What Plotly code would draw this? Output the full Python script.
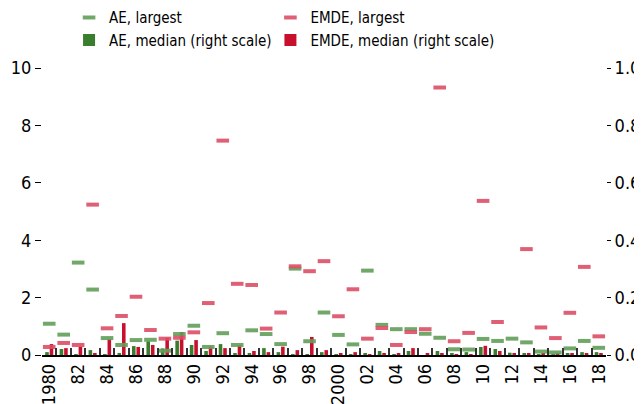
import plotly.graph_objects as go

years = ["1980", "1981", "1982", "1983", "1984", "1985", "1986", "1987", "1988", "1989",
         "1990", "1991", "1992", "1993", "1994", "1995", "1996", "1997", "1998", "1999",
         "2000", "2001", "2002", "2003", "2004", "2005", "2006", "2007", "2008", "2009",
         "2010", "2011", "2012", "2013", "2014", "2015", "2016", "2017", "2018"]

tick_labels = ["1980", "", "82", "", "84", "", "86", "", "88", "",
               "90", "", "92", "", "94", "", "96", "", "98", "",
               "2000", "", "02", "", "04", "", "06", "", "08", "",
               "10", "", "12", "", "14", "", "16", "", "18"]

ae_largest = [1.09, 0.71, 3.22, 2.28, 0.59, 0.35, 0.52, 0.53, 0.15, 0.73,
              1.02, 0.28, 0.76, 0.35, 0.86, 0.73, 0.38, 3.01, 0.48, 1.48,
              0.70, 0.37, 2.94, 1.05, 0.90, 0.90, 0.74, 0.60, 0.20, 0.19,
              0.56, 0.49, 0.57, 0.44, 0.12, 0.09, 0.23, 0.49, 0.25]

emde_largest = [0.28, 0.42, 0.35, 5.24, 0.93, 1.36, 2.03, 0.87, 0.57, 0.60,
                0.79, 1.81, 7.47, 2.48, 2.44, 0.92, 1.48, 3.09, 2.92, 3.27,
                1.35, 2.29, 0.57, 0.94, 0.35, 0.80, 0.90, 9.32, 0.48, 0.77,
                5.37, 1.15, None, 3.69, 0.96, 0.59, 1.47, 3.07, 0.65]

ae_median = [0.010, 0.021, 0.003, 0.017, 0.003, 0.007, 0.031, 0.048, 0.023, 0.050,
             0.035, 0.014, 0.038, 0.007, 0.007, 0.024, 0.010, 0.003, 0.003, 0.010,
             0.003, 0.003, 0.007, 0.014, 0.003, 0.014, 0.000, 0.014, 0.007, 0.010,
             0.028, 0.021, 0.008, 0.005, 0.002, 0.002, 0.007, 0.010, 0.010]

emde_median = [0.038, 0.024, 0.029, 0.007, 0.055, 0.111, 0.028, 0.035, 0.060, 0.080,
               0.052, 0.029, 0.024, 0.034, 0.014, 0.010, 0.029, 0.017, 0.063, 0.017,
               0.007, 0.010, 0.003, 0.007, 0.007, 0.024, 0.007, 0.007, 0.003, 0.003,
               0.032, 0.014, 0.005, 0.005, 0.004, 0.004, 0.004, 0.004, 0.004]

FONT = "DejaVu Sans Condensed, Liberation Sans Narrow, sans-serif"
AE_DARK = "#3a7d2c"
EMDE_DARK = "#c8102e"
AE_LIGHT = "rgba(98,158,90,0.9)"
EMDE_LIGHT = "rgba(220,78,102,0.9)"

fig = go.Figure()

fig.add_trace(go.Bar(x=years, y=ae_median, name="AE, median (right scale)",
                     marker=dict(color=AE_DARK, line=dict(width=0)),
                     yaxis="y", legend="legend", legendrank=2))
fig.add_trace(go.Bar(x=years, y=emde_median, name="EMDE, median (right scale)",
                     marker=dict(color=EMDE_DARK, line=dict(width=0)),
                     yaxis="y", legend="legend2", legendrank=2))
fig.add_trace(go.Scatter(x=years, y=ae_largest, name="AE, largest", mode="markers",
                         marker=dict(symbol="line-ew", size=9,
                                     line=dict(width=4, color=AE_LIGHT)),
                         yaxis="y2", legend="legend", legendrank=1))
fig.add_trace(go.Scatter(x=years, y=emde_largest, name="EMDE, largest", mode="markers",
                         marker=dict(symbol="line-ew", size=9,
                                     line=dict(width=4, color=EMDE_LIGHT)),
                         yaxis="y2", legend="legend2", legendrank=1))

legend_common = dict(orientation="v", xanchor="left", yanchor="top",
                     xref="paper", yref="paper", y=1.233,
                     font=dict(family=FONT, size=15, color="black"),
                     bgcolor="rgba(0,0,0,0)", tracegroupgap=0, itemwidth=30,
                     traceorder="normal")

fig.update_layout(
    width=642, height=404,
    margin=dict(l=34, r=44, t=60, b=57, autoexpand=False),
    paper_bgcolor="white", plot_bgcolor="white",
    font=dict(family=FONT, size=18, color="black"),
    barmode="group", bargap=0.38, bargroupgap=0.2,
    showlegend=True,
    legend=dict(x=0.048, **legend_common),
    legend2=dict(x=0.405, **legend_common),
    xaxis=dict(type="category", categoryorder="array", categoryarray=years,
               range=[-0.5, len(years) - 0.5], autorange=False,
               tickmode="array", tickvals=years, ticktext=tick_labels,
               tickangle=-90, tickson="boundaries", ticks="inside", ticklen=7,
               tickwidth=1.5, tickcolor="#333333",
               showline=True, linecolor="black", linewidth=1.5,
               showgrid=False, zeroline=False,
               tickfont=dict(family=FONT, size=18)),
    yaxis=dict(side="right", range=[0, 1.0], tickvals=[0, 0.2, 0.4, 0.6, 0.8, 1.0],
               tickformat=".1f", ticks="outside", ticklen=4, tickcolor="black",
               showgrid=False, zeroline=False, showline=False,
               tickfont=dict(family=FONT, size=18)),
    yaxis2=dict(side="left", overlaying="y", range=[0, 10], tickvals=[0, 2, 4, 6, 8, 10],
                ticks="outside", ticklen=6, tickcolor="black",
                showgrid=False, zeroline=False, showline=False,
                tickfont=dict(family=FONT, size=18)),
)

fig.write_html("out.html")
